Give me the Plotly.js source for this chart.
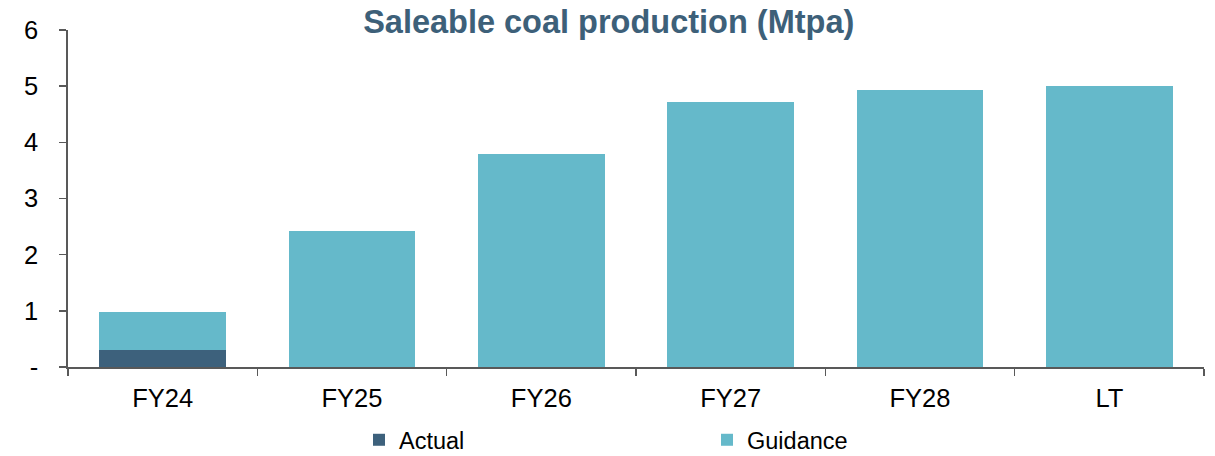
<!DOCTYPE html>
<html>
<head>
<meta charset="utf-8">
<script src="https://cdn.plot.ly/plotly-3.0.1.min.js"></script>
<style>html,body{margin:0;padding:0;background:#fff;}#chart{width:1215px;height:456px;}</style>
</head>
<body>
<div id="chart"></div>
<script>
const categories = ["FY24", "FY25", "FY26", "FY27", "FY28", "LT"];
const actual = [0.3, null, null, null, null, null];
const guidance = [0.68, 2.42, 3.79, 4.72, 4.94, 5.0];
const yTickVals = [0, 1, 2, 3, 4, 5, 6];
const yTickText = ["-", "1", "2", "3", "4", "5", "6"];

const FONT = "Liberation Sans, Arial, sans-serif";

const data = [
  {type: "bar", name: "Actual", x: categories, y: actual,
   marker: {color: "#3d617c"}, width: 0.67, hoverinfo: "x+y"},
  {type: "bar", name: "Guidance", x: categories, y: guidance,
   marker: {color: "#65b9ca"}, width: 0.67, hoverinfo: "x+y"}
];

const layout = {
  width: 1215, height: 456,
  margin: {l: 68, r: 11, t: 30, b: 89, autoexpand: false},
  paper_bgcolor: "#fff", plot_bgcolor: "#fff",
  barmode: "stack",
  font: {family: FONT, color: "#000", size: 25},
  title: {text: "<b>Saleable coal production (Mtpa)</b>",
          font: {family: FONT, size: 32.5, color: "#3d6079"},
          xref: "container", x: 0.501, xanchor: "center",
          yref: "container", y: 1 - 22/456, yanchor: "middle"},
  xaxis: {type: "category", showline: true, linecolor: "#595959", linewidth: 1.6,
          ticks: "outside", tickson: "boundaries", ticklen: 7, tickwidth: 1.6, tickcolor: "#595959",
          tickfont: {family: FONT, size: 25.5, color: "#000"}, showgrid: false, zeroline: false,
          ticklabelstandoff: 8, fixedrange: true},
  yaxis: {range: [0, 6], tickvals: yTickVals, ticktext: yTickText,
          showline: true, linecolor: "#595959", linewidth: 1.6,
          ticks: "outside", ticklen: 7, tickwidth: 1.6, tickcolor: "#595959",
          tickfont: {family: FONT, size: 25.5, color: "#000"},
          showgrid: false, zeroline: false, ticklabelstandoff: 16, fixedrange: true},
  showlegend: true,
  legend: {orientation: "h", xref: "paper", x: (359 - 68) / 1136, xanchor: "left",
           yref: "container", y: 1 - 440/456, yanchor: "middle",
           entrywidth: 303, entrywidthmode: "pixels", itemwidth: 30,
           font: {family: FONT, size: 23.5, color: "#000"}, traceorder: "normal"}
};

Plotly.newPlot("chart", data, layout, {displayModeBar: false, staticPlot: true});
</script>
</body>
</html>
